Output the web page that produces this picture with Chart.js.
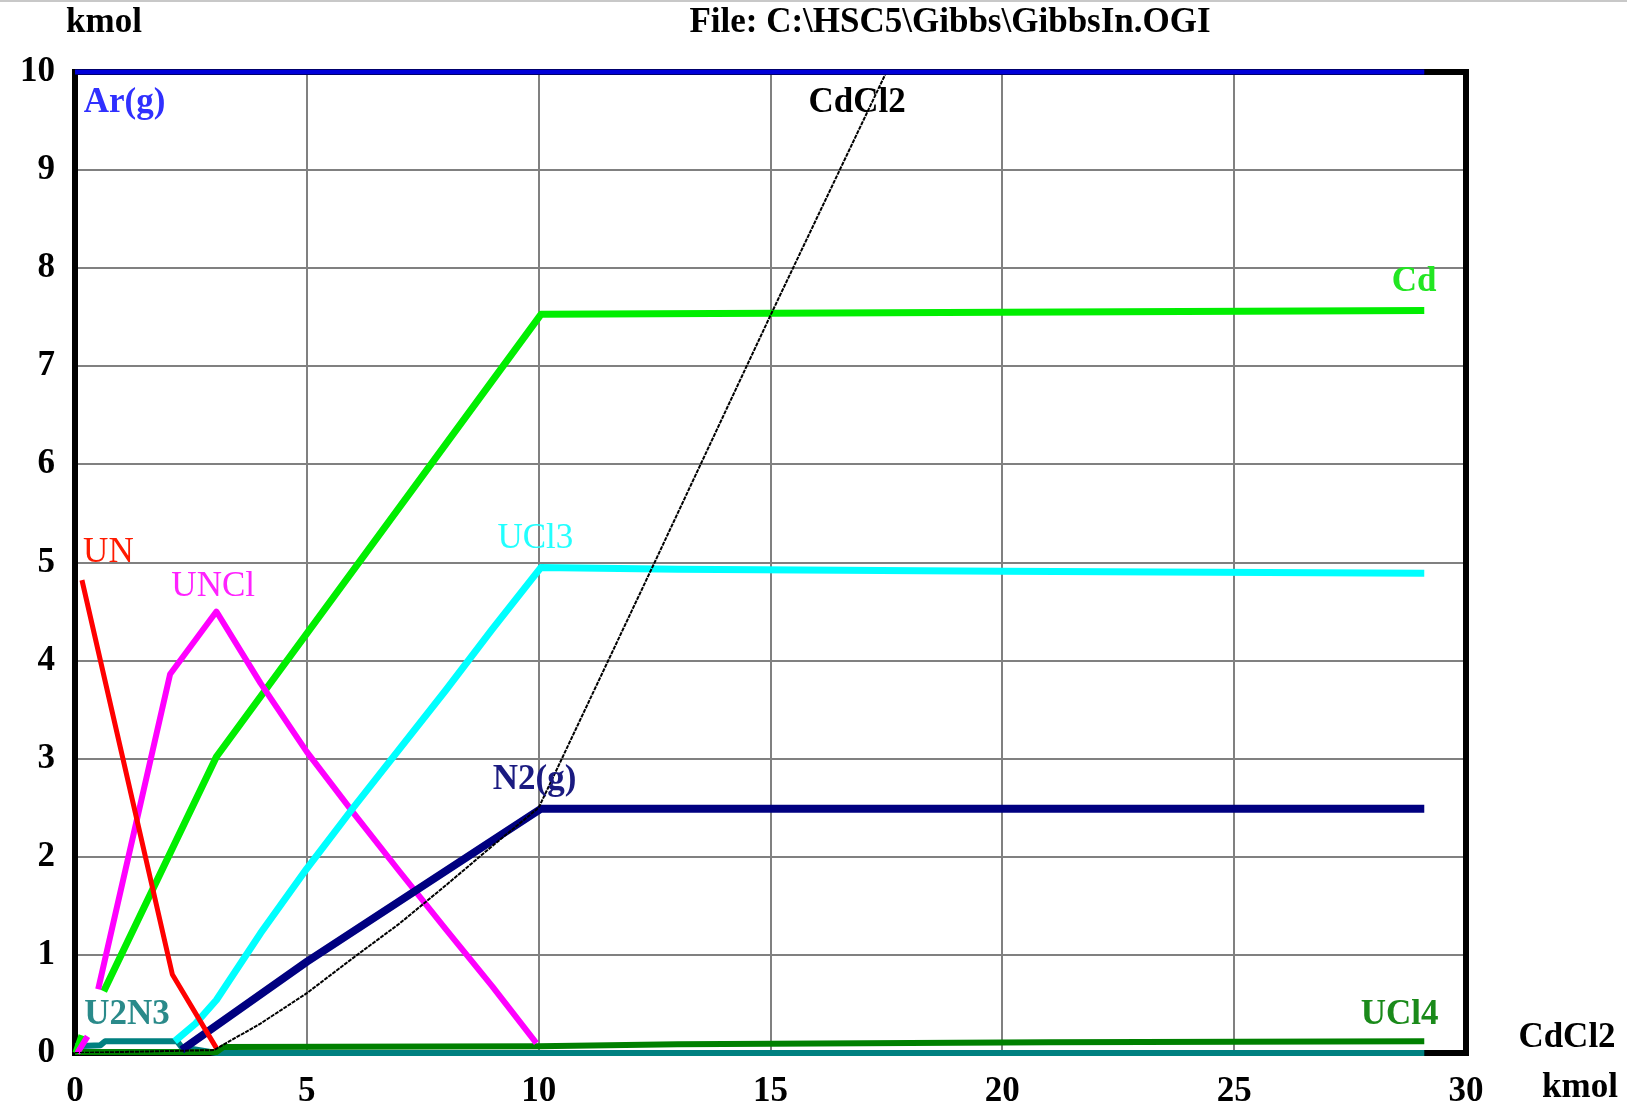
<!DOCTYPE html>
<html>
<head>
<meta charset="utf-8">
<script src="https://cdn.jsdelivr.net/npm/chart.js@4.4.1/dist/chart.umd.min.js"></script>
<style>
  html, body { margin: 0; padding: 0; background: #fff; }
  body { width: 1627px; height: 1109px; overflow: hidden; border-top: 2px solid #c8c8c8; box-sizing: border-box; }
  #wrap { position: absolute; left: 0; top: 0; width: 1627px; height: 1109px; }
</style>
</head>
<body>
<div id="wrap"><canvas id="c" width="1627" height="1109"></canvas></div>
<script>
// ---- data (x = CdCl2 kmol, y = kmol) ----
const xTicks = [0, 5, 10, 15, 20, 25, 30];
const yTicks = [0, 1, 2, 3, 4, 5, 6, 7, 8, 9, 10];

const arX = [0, 29.1];
const arY = [10, 10];

const cdcl2X = [0, 3.0, 4, 5, 6, 7, 8, 9, 10, 12.5, 15, 17.5];
const cdcl2Y = [0, 0.03, 0.3, 0.61, 0.97, 1.32, 1.71, 2.11, 2.5, 5.0, 7.52, 10.0];

const n2X = [2.3, 5, 10.05, 29.1];
const n2Y = [0.03, 0.93, 2.49, 2.49];

const ucl3X = [2.15, 2.6, 3.05, 4, 5, 6, 7, 8, 9, 10.05, 13, 20, 29.1];
const ucl3Y = [0.12, 0.3, 0.54, 1.22, 1.88, 2.5, 3.1, 3.7, 4.32, 4.95, 4.93, 4.91, 4.89];

const unclX = [0.05, 0.27, 0.4, 0.5, 2.05, 3.05, 4, 5, 6, 7, 8, 9, 9.95];
const unclY = [0.0, 0.17, null, 0.65, 3.86, 4.5, 3.77, 3.07, 2.45, 1.85, 1.26, 0.68, 0.1];

const cdX = [0.02, 0.15, 0.4, 0.62, 3.05, 10.05, 20, 29.1];
const cdY = [0.0, 0.18, null, 0.63, 3.02, 7.53, 7.55, 7.57];

const unX = [0.15, 1.0, 2.1, 3.05];
const unY = [4.82, 3.07, 0.8, 0.05];

const ucl4X = [0, 3.05, 3.2, 10, 13, 21, 29.1];
const ucl4Y = [0.01, 0.01, 0.06, 0.07, 0.09, 0.11, 0.12];

const u2n3X = [0, 0.55, 0.65, 2.2, 2.3, 3.05, 29.1];
const u2n3Y = [0.07, 0.08, 0.12, 0.12, 0.06, 0.0, 0.0];

// series labels placed in data coordinates
const labelText = ['Ar(g)', 'CdCl2', 'Cd', 'UN', 'UNCl', 'UCl3', 'N2(g)', 'U2N3', 'UCl4'];
const labelX    = [1.07, 16.87, 28.88, 0.72, 2.98, 9.93, 9.91, 1.12, 28.57];
const labelY    = [9.68, 9.68, 7.86, 5.1, 4.75, 5.24, 2.78, 0.39, 0.39];
const labelColor = ['#3030ff', '#000000', '#22e622', '#ff1a00', '#ff22ff', '#22ffff', '#1a1a80', '#2a8a8a', '#1a8a1a'];
const labelWeight = ['bold', 'bold', 'bold', 'normal', 'normal', 'normal', 'bold', 'bold', 'bold'];

const titleText = 'File: C:\\HSC5\\Gibbs\\GibbsIn.OGI';
const yUnit = 'kmol';
const xName = 'CdCl2';
const xUnit = 'kmol';

function pts(xs, ys) { return xs.map((x, i) => ({ x: x, y: ys[i] })); }

const FONT = "'Liberation Serif', 'Times New Roman', serif";

function ds(label, xs, ys, color, width, order, extra) {
  return Object.assign({
    label: label,
    data: pts(xs, ys),
    borderColor: color,
    backgroundColor: color,
    borderWidth: width,
    pointRadius: 0,
    pointHoverRadius: 0,
    tension: 0,
    fill: false,
    spanGaps: false,
    borderCapStyle: 'butt',
    borderJoinStyle: 'round',
    clip: 8,
    order: order
  }, extra || {});
}

const frame = {
  id: 'frame',
  beforeDatasetsDraw(chart) {
    const a = chart.chartArea, ctx = chart.ctx;
    ctx.save();
    ctx.strokeStyle = '#000';
    ctx.lineWidth = 6;
    ctx.lineJoin = 'miter';
    ctx.strokeRect(a.left, a.top, a.right - a.left, a.bottom - a.top);
    ctx.restore();
  },
  afterDraw(chart) {
    const ctx = chart.ctx, xs = chart.scales.x, ys = chart.scales.y;
    ctx.save();
    ctx.textAlign = 'center';
    ctx.textBaseline = 'middle';
    for (let i = 0; i < labelText.length; i++) {
      ctx.font = labelWeight[i] + ' 35px ' + FONT;
      ctx.fillStyle = labelColor[i];
      ctx.fillText(labelText[i], xs.getPixelForValue(labelX[i]), ys.getPixelForValue(labelY[i]));
    }
    ctx.font = 'bold 35px ' + FONT;
    ctx.fillStyle = '#000';
    ctx.fillText(yUnit, 104, 23);
    ctx.fillText(titleText, 950, 23);
    ctx.fillText(xName, 1567, 1038);
    ctx.fillText(xUnit, 1580, 1088);
    ctx.restore();
  }
};

new Chart(document.getElementById('c'), {
  type: 'line',
  data: {
    datasets: [
      ds('Ar(g)', arX, arY, '#0000d8', 5, 0),
      ds('CdCl2', cdcl2X, cdcl2Y, '#000000', 2, 1, { borderDash: [4, 1], clip: 0 }),
      ds('UN', unX, unY, '#ff0000', 5, 2),
      ds('N2(g)', n2X, n2Y, '#000080', 8, 3),
      ds('UCl3', ucl3X, ucl3Y, '#00ffff', 7, 4),
      ds('UNCl', unclX, unclY, '#ff00ff', 6, 5),
      ds('Cd', cdX, cdY, '#00ee00', 7, 6),
      ds('UCl4', ucl4X, ucl4Y, '#008000', 6, 7),
      ds('U2N3', u2n3X, u2n3Y, '#008080', 6, 8)
    ]
  },
  options: {
    responsive: false,
    animation: false,
    events: [],
    layout: { padding: { top: 72, right: 161, left: 0, bottom: 0 } },
    plugins: { legend: { display: false }, title: { display: false }, tooltip: { enabled: false } },
    scales: {
      x: {
        type: 'linear',
        min: 0, max: 30,
        afterFit(s) { s.height = 56; },
        afterBuildTicks(s) { s.ticks = xTicks.map(v => ({ value: v })); },
        grid: { color: '#808080', lineWidth: 2, drawTicks: false },
        border: { display: false },
        ticks: { color: '#000', padding: 18, maxRotation: 0, font: { family: FONT, size: 35, weight: 'bold' } }
      },
      y: {
        type: 'linear',
        min: 0, max: 10,
        afterFit(s) { s.width = 75; },
        afterBuildTicks(s) { s.ticks = yTicks.map(v => ({ value: v })); },
        grid: { color: '#808080', lineWidth: 2, drawTicks: false },
        border: { display: false },
        ticks: { color: '#000', padding: 20, font: { family: FONT, size: 35, weight: 'bold' } }
      }
    }
  },
  plugins: [frame]
});
</script>
</body>
</html>
